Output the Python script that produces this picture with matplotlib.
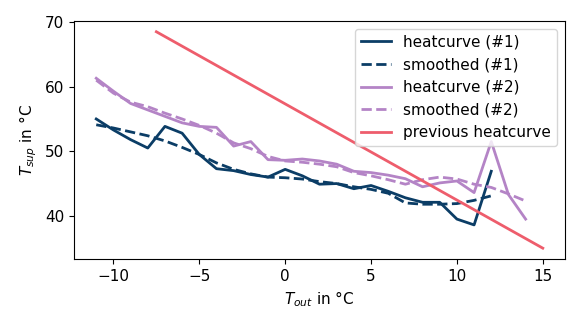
import matplotlib
matplotlib.use('Agg')
import matplotlib.pyplot as plt

plt.rcParams['font.size'] = 11

t_out_1 = [-11, -10, -9, -8, -7, -6, -5, -4, -3, -2, -1, 0, 1, 2, 3, 4, 5, 6, 7, 8, 9, 10, 11, 12]
heat_1 = [55.0, 53.3, 51.8, 50.5, 53.85, 52.8, 49.5, 47.3, 47.0, 46.4, 46.0, 47.2, 46.2, 44.9, 45.0,
          44.2, 44.7, 43.8, 42.8, 42.1, 42.1, 39.5, 38.6, 46.9]
smooth_1 = [54.1, 53.6, 53.0, 52.4, 51.6, 50.6, 49.5, 48.2, 47.2, 46.5, 46.0, 45.9, 45.7, 45.3, 45.0,
            44.5, 44.1, 43.5, 42.0, 41.8, 41.8, 41.9, 42.4, 43.1]

t_out_2 = [-11, -10, -9, -8, -7, -6, -5, -4, -3, -2, -1, 0, 1, 2, 3, 4, 5, 6, 7, 8, 9, 10, 11, 12, 13, 14]
heat_2 = [61.3, 59.3, 57.4, 56.4, 55.4, 54.4, 53.85, 53.7, 50.8, 51.5, 48.7, 48.6, 48.8, 48.5, 48.0,
          46.9, 46.7, 46.3, 45.75, 44.5, 45.1, 45.4, 43.6, 51.5, 43.3, 39.5]
smooth_2 = [61.0, 59.0, 57.6, 56.9, 55.9, 55.0, 54.0, 52.8, 51.3, 50.4, 49.2, 48.5, 48.3, 48.0, 47.6,
            46.7, 46.2, 45.6, 44.9, 45.6, 46.0, 45.7, 44.9, 44.4, 43.4, 42.3]

prev_x = [-7.5, 15]
prev_y = [68.5, 35.0]

col1 = '#0b3d66'
col2 = '#b484c6'
col3 = '#ee5d6c'

fig, ax = plt.subplots(figsize=(5.82, 3.27), dpi=100)
ax.plot(t_out_1, heat_1, color=col1, lw=2, label='heatcurve (#1)')
ax.plot(t_out_1, smooth_1, color=col1, lw=2, ls='--', label='smoothed (#1)')
ax.plot(t_out_2, heat_2, color=col2, lw=2, label='heatcurve (#2)')
ax.plot(t_out_2, smooth_2, color=col2, lw=2, ls='--', label='smoothed (#2)')
ax.plot(prev_x, prev_y, color=col3, lw=2, label='previous heatcurve')

ax.set_xlabel(r'$T_{out}$ in °C')
ax.set_ylabel(r'$T_{sup}$ in °C')
ax.set_xticks([-10, -5, 0, 5, 10, 15])
ax.set_yticks([40, 50, 60, 70])
ax.legend(loc='upper right')

plt.subplots_adjust(left=0.127, right=0.971, top=0.936, bottom=0.208)
plt.savefig('out.png', dpi=100)
